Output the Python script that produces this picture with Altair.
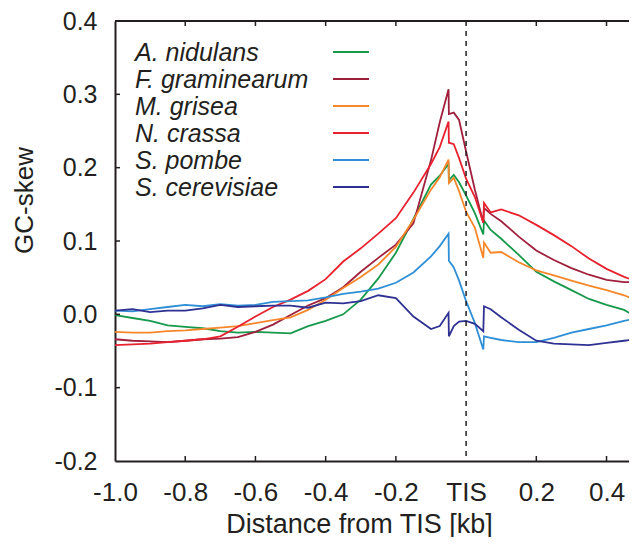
import altair as alt
import pandas as pd

# ---------------- data ----------------
x_kb = [-1.0, -0.95, -0.9, -0.85, -0.8, -0.75, -0.7, -0.65, -0.6, -0.55,
        -0.5, -0.45, -0.4, -0.35, -0.3, -0.25, -0.2, -0.15, -0.1, -0.075,
        -0.05, -0.049, -0.035, -0.02, 0.0, 0.025, 0.049, 0.051, 0.07, 0.1,
        0.15, 0.2, 0.25, 0.3, 0.35, 0.4, 0.45, 0.487]

species = ["A. nidulans", "F. graminearum", "M. grisea", "N. crassa",
           "S. pombe", "S. cerevisiae"]
colors = ["#16994a", "#a01f3c", "#f7872a", "#e8212e", "#2f8fd6", "#2e3192"]

a_nidulans = [-0.001, -0.005, -0.009, -0.015, -0.017, -0.019, -0.023, -0.025, -0.024, -0.025,
              -0.026, -0.016, -0.009, 0.000, 0.020, 0.049, 0.084, 0.130, 0.177, 0.189,
              0.205, 0.183, 0.190, 0.180, 0.162, 0.138, 0.109, 0.128, 0.115, 0.103,
              0.081, 0.058, 0.045, 0.033, 0.021, 0.013, 0.006, -0.004]
f_graminearum = [-0.034, -0.036, -0.037, -0.038, -0.036, -0.034, -0.033, -0.031, -0.024, -0.014,
                 -0.001, 0.012, 0.022, 0.037, 0.058, 0.077, 0.095, 0.124, 0.210, 0.262,
                 0.307, 0.273, 0.275, 0.265, 0.222, 0.170, 0.125, 0.145, 0.137, 0.127,
                 0.106, 0.087, 0.074, 0.063, 0.054, 0.047, 0.044, 0.044]
m_grisea = [-0.024, -0.025, -0.025, -0.023, -0.022, -0.020, -0.018, -0.016, -0.012, -0.008,
            -0.004, 0.006, 0.020, 0.036, 0.051, 0.068, 0.092, 0.129, 0.170, 0.187,
            0.211, 0.179, 0.186, 0.168, 0.140, 0.118, 0.077, 0.098, 0.084, 0.085,
            0.071, 0.060, 0.053, 0.046, 0.039, 0.033, 0.026, 0.019]
n_crassa = [-0.042, -0.041, -0.040, -0.038, -0.036, -0.034, -0.030, -0.017, -0.003, 0.010,
            0.020, 0.032, 0.048, 0.072, 0.090, 0.110, 0.131, 0.166, 0.205, 0.228,
            0.263, 0.234, 0.232, 0.213, 0.185, 0.160, 0.125, 0.152, 0.139, 0.143,
            0.135, 0.122, 0.108, 0.093, 0.076, 0.062, 0.051, 0.045]
s_pombe = [0.005, 0.004, 0.007, 0.010, 0.013, 0.011, 0.014, 0.012, 0.013, 0.017,
           0.018, 0.019, 0.023, 0.028, 0.031, 0.035, 0.043, 0.057, 0.079, 0.093,
           0.110, 0.073, 0.064, 0.046, 0.018, -0.012, -0.048, -0.030, -0.032, -0.035,
           -0.038, -0.038, -0.032, -0.025, -0.020, -0.015, -0.009, -0.005]
s_cerevisiae = [0.005, 0.007, 0.003, 0.005, 0.005, 0.008, 0.013, 0.010, 0.011, 0.012,
                0.012, 0.009, 0.016, 0.015, 0.018, 0.026, 0.022, -0.003, -0.020, -0.016,
                0.002, -0.030, -0.016, -0.010, -0.009, -0.013, -0.023, 0.011, 0.007, -0.004,
                -0.021, -0.036, -0.040, -0.041, -0.042, -0.039, -0.036, -0.034]

x_tick_values = [-1.0, -0.8, -0.6, -0.4, -0.2, 0.0, 0.2, 0.4]
x_minor_ticks = [-0.8, -0.6, -0.4, -0.2, 0.2, 0.4]
y_tick_values = [-0.2, -0.1, 0.0, 0.1, 0.2, 0.3, 0.4]
y_minor_ticks = [-0.1, 0.0, 0.1, 0.2, 0.3]

series = [a_nidulans, f_graminearum, m_grisea, n_crassa, s_pombe, s_cerevisiae]
rows = []
for name, vals in zip(species, series):
    for xv, v in zip(x_kb, vals):
        rows.append({"species": name, "x": xv, "skew": v})
df = pd.DataFrame(rows)

FONT = "Liberation Sans"
INK = "#231f20"
W, H = 514, 440
X_MAX = 0.464

xscale = alt.Scale(domain=[-1.0, X_MAX], nice=False, zero=False)
yscale = alt.Scale(domain=[-0.2, 0.4], nice=False, zero=False)
color = alt.Color("species:N", scale=alt.Scale(domain=species, range=colors), legend=None)

x_axis = alt.Axis(
    values=x_tick_values,
    labelExpr="abs(datum.value) < 1e-9 ? 'TIS' : replace(format(datum.value, '.1f'), '\u2212', '-')",
    ticks=False, grid=False, domainColor=INK, domainWidth=2,
    labelFont=FONT, labelFontSize=26, labelColor=INK, labelPadding=18,
    labelFlush=False, labelOverlap=False,
    title="Distance from TIS [kb]", titleFont=FONT, titleFontSize=27,
    titleFontWeight="normal", titleColor=INK, titleX=244, titleY=71,
    titleBaseline="alphabetic",
)
y_axis = alt.Axis(
    values=y_tick_values,
    labelExpr="replace(format(datum.value, '.1f'), '\u2212', '-')",
    ticks=False, grid=False, domainColor=INK, domainWidth=2,
    labelFont=FONT, labelFontSize=25, labelColor=INK, labelPadding=18,
    labelOverlap=False,
    title="GC-skew", titleFont=FONT, titleFontSize=26, titleFontWeight="normal",
    titleColor=INK, titleX=-91, titleY=179, titleBaseline="middle",
)

lines = alt.Chart(df).mark_line(strokeWidth=1.8, clip=True).encode(
    x=alt.X("x:Q", scale=xscale, axis=x_axis),
    y=alt.Y("skew:Q", scale=yscale, axis=y_axis),
    color=color,
    detail="species:N",
)

dash = alt.Chart(pd.DataFrame({"x": [0.0]})).mark_rule(
    strokeDash=[5, 5], strokeWidth=1.5, color=INK
).encode(x=alt.X("x:Q", scale=xscale))

top_line = alt.Chart(pd.DataFrame({"y": [0.4]})).mark_rule(
    strokeWidth=2, color=INK
).encode(y=alt.Y("y:Q", scale=yscale))

xt_df = pd.DataFrame({"x": x_minor_ticks})
bottom_ticks = alt.Chart(xt_df).mark_rule(strokeWidth=1.5, color=INK).encode(
    x=alt.X("x:Q", scale=xscale), y=alt.value(H), y2=alt.value(H - 5))
top_ticks = alt.Chart(xt_df).mark_rule(strokeWidth=1.5, color=INK).encode(
    x=alt.X("x:Q", scale=xscale), y=alt.value(0), y2=alt.value(5))
left_ticks = alt.Chart(pd.DataFrame({"y": y_minor_ticks})).mark_rule(
    strokeWidth=1.5, color=INK).encode(
    y=alt.Y("y:Q", scale=yscale), x=alt.value(0), x2=alt.value(5))

main = alt.layer(lines, dash, top_line, bottom_ticks, top_ticks, left_ticks)

leg_df = pd.DataFrame({"species": species})
leg_y = alt.Y("species:N",
              scale=alt.Scale(type="point", domain=species, range=[31, 166], padding=0),
              axis=None)
leg_text = alt.Chart(leg_df).mark_text(
    align="left", baseline="middle", fontSize=25, fontStyle="italic",
    font=FONT, color=INK, dy=1
).encode(x=alt.value(20), y=leg_y, text="species:N")
leg_line = alt.Chart(leg_df).mark_rule(strokeWidth=2).encode(
    x=alt.value(218), x2=alt.value(254), y=leg_y, color=color)
legend = alt.layer(leg_text, leg_line)

chart = alt.layer(main, legend).resolve_scale(y="independent").properties(
    width=W, height=H,
    padding={"left": 107, "top": 13, "right": 0, "bottom": 76},
    autosize=alt.AutoSizeParams(type="none"),
    background="white",
).configure_view(stroke=None)

chart.save("out.html", embed_options={"renderer": "svg", "actions": False})
